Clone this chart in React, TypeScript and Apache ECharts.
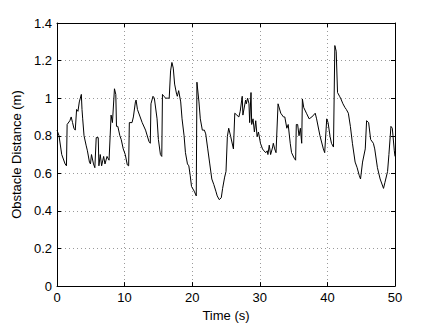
import React, { useEffect, useRef } from "react";
import * as echarts from "echarts";

const times = [
  0, 0.3, 0.7, 1.2, 1.4, 1.5, 1.9, 2.1, 2.3, 2.5, 2.7, 2.9, 3.1, 3.3, 3.6, 3.7, 3.8, 4.0, 4.3, 4.5, 4.8, 4.95,
  5.1, 5.4, 5.6, 5.8, 6.1, 6.2, 6.4, 6.6, 6.9, 7.1, 7.4, 7.7, 8.0, 8.2, 8.5, 8.7, 8.8, 9.0, 9.3, 9.5,
  9.8, 10.1, 10.4, 10.6, 10.7, 11.1, 11.3, 11.6, 11.7, 11.9, 12.3, 12.6, 13.1, 13.6, 13.8, 13.9, 14.2, 14.4,
  14.8, 15.0, 15.3, 15.5, 15.6, 15.8, 16.1, 16.3, 16.6, 16.8, 17.0, 17.2, 17.4, 17.7, 17.8, 18.0, 18.3, 18.5,
  18.8, 19.0, 19.3, 19.5, 19.7, 19.9, 20.3, 20.6, 20.7, 21.0, 21.2, 21.5, 21.8, 22.0, 22.3, 22.6, 22.9, 23.2,
  23.5, 23.7, 24.0, 24.3, 24.5, 24.8, 25.0, 25.2, 25.4, 25.7, 26.1, 26.3, 26.6, 26.9, 27.1, 27.4, 27.5,
  27.9, 28.0, 28.2, 28.4, 28.5, 28.7, 28.8, 29.0, 29.2, 29.4, 29.6, 29.8, 30.1, 30.4, 30.6, 30.9, 31.1,
  31.2, 31.4, 31.6, 31.9, 32.0, 32.2, 32.4, 32.7, 33.1, 33.5, 33.7, 34.0, 34.2, 34.5, 34.7, 35.1, 35.3,
  35.4, 35.6, 35.8, 36.0, 36.2, 36.3, 36.5, 36.9, 37.3, 37.7, 38.2, 38.4, 38.9, 39.4, 39.6, 39.9, 40.1,
  40.4, 40.6, 40.9, 41.1, 41.3, 41.5, 41.8, 42.0, 42.3, 42.6, 42.8, 43.1, 43.4, 43.7, 44.1, 44.4, 44.7,
  44.9, 45.2, 45.6, 45.8, 46.1, 46.4, 46.8, 47.0, 47.4, 47.8, 48.3, 48.5, 48.9, 49.1, 49.4, 49.6, 49.7,
  49.9, 50
];

const distances = [
  0.83, 0.8, 0.7, 0.65, 0.64, 0.86, 0.88, 0.9, 0.87, 0.84, 0.83, 0.94, 0.93, 0.98, 1.02, 0.94, 0.89, 0.8,
  0.75, 0.72, 0.66, 0.65, 0.7, 0.65, 0.63, 0.79, 0.79, 0.64, 0.7, 0.64, 0.69, 0.65, 0.69, 0.67, 0.91, 0.87,
  1.05, 1.02, 0.85, 0.85, 0.8, 0.78, 0.73, 0.7, 0.645, 0.64, 0.87, 0.87, 0.9, 0.98, 0.99, 0.94, 0.9, 0.87,
  0.83, 0.77, 0.76, 0.97, 1.01, 1.0, 0.89, 0.78, 0.7, 0.69, 1.02, 1.01, 1.0, 1.0, 1.0, 1.145, 1.19, 1.16,
  1.075, 1.02, 1.01, 1.04, 0.98, 0.89, 0.8, 0.71, 0.65, 0.64, 0.59, 0.53, 0.505, 0.48, 1.085, 0.98, 0.89,
  0.83, 0.83, 0.81, 0.73, 0.65, 0.57, 0.54, 0.505, 0.48, 0.46, 0.47, 0.52, 0.58, 0.61, 0.795, 0.84, 0.795,
  0.73, 0.92, 0.91, 0.9, 0.93, 1.01, 0.91, 0.99, 0.97, 1.0, 0.97, 0.87, 1.03, 0.86, 0.89, 0.82, 0.88, 0.795,
  0.82, 0.76, 0.73, 0.72, 0.71, 0.72, 0.7, 0.75, 0.7, 0.74, 0.76, 0.73, 0.71, 0.97, 0.92, 0.9, 0.9, 0.84,
  0.86, 0.76, 0.71, 0.68, 0.67, 0.86, 0.86, 0.8, 0.84, 0.76, 0.996, 0.95, 0.92, 0.89, 0.9, 0.92, 0.89, 0.8,
  0.73, 0.71, 0.89, 0.87, 0.795, 0.76, 0.74, 1.28, 1.25, 1.03, 1.01, 0.996, 0.97, 0.95, 0.94, 0.92, 0.85,
  0.76, 0.66, 0.63, 0.59, 0.57, 0.66, 0.73, 0.88, 0.87, 0.78, 0.76, 0.73, 0.63, 0.57, 0.52, 0.55, 0.61,
  0.7, 0.85, 0.84, 0.8, 0.72, 0.69
];

const xTicks = [0, 10, 20, 30, 40, 50];
const yTicks = [0, 0.2, 0.4, 0.6, 0.8, 1, 1.2, 1.4];

const FONT = "Liberation Sans, Arial, sans-serif";

export default function App() {
  const ref = useRef<HTMLDivElement>(null);
  useEffect(() => {
    if (!ref.current) return;
    const chart = echarts.init(ref.current, null, { renderer: "svg" });
    const gridLine = { show: true, lineStyle: { color: "#9a9a9a", type: [1, 3] as any, width: 1 } };
    const axisLine = { show: true, onZero: false, lineStyle: { color: "#000", width: 1 } };
    const tick = { show: true, inside: true, length: 4, lineStyle: { color: "#000" } };
    chart.setOption({
      animation: false,
      backgroundColor: "#fff",
      grid: { left: 57, right: 41, top: 23, bottom: 37, containLabel: false },
      xAxis: [
        {
          type: "value",
          min: xTicks[0],
          max: xTicks[xTicks.length - 1],
          interval: 10,
          name: "Time (s)",
          nameLocation: "middle",
          nameGap: 21,
          nameTextStyle: { fontFamily: FONT, fontSize: 13, color: "#000" },
          axisLine,
          axisTick: tick,
          splitLine: gridLine,
          axisLabel: { fontFamily: FONT, fontSize: 13, color: "#000", margin: 5 },
        },
        {
          type: "value",
          position: "top",
          min: 0,
          max: 50,
          interval: 10,
          axisLine,
          axisTick: tick,
          splitLine: { show: false },
          axisLabel: { show: false },
        },
      ],
      yAxis: [
        {
          type: "value",
          min: yTicks[0],
          max: yTicks[yTicks.length - 1],
          interval: 0.2,
          name: "Obstacle Distance (m)",
          nameLocation: "middle",
          nameGap: 27,
          nameTextStyle: { fontFamily: FONT, fontSize: 13, color: "#000" },
          axisLine,
          axisTick: tick,
          splitLine: gridLine,
          axisLabel: {
            fontFamily: FONT,
            fontSize: 13,
            color: "#000",
            margin: 5,
            formatter: (v: number) => String(Math.round(v * 10) / 10),
          },
        },
        {
          type: "value",
          position: "right",
          min: 0,
          max: 1.4,
          interval: 0.2,
          axisLine,
          axisTick: tick,
          splitLine: { show: false },
          axisLabel: { show: false },
        },
      ],
      series: [
        {
          type: "line",
          data: times.map((t, i) => [t, distances[i]]),
          showSymbol: false,
          symbol: "none",
          lineStyle: { color: "#000", width: 1 },
          xAxisIndex: 0,
          yAxisIndex: 0,
        },
      ],
    });
    return () => chart.dispose();
  }, []);
  return (
    <div
      ref={ref}
      style={{ position: "fixed", left: 0, top: 0, width: 436, height: 327 }}
    />
  );
}
